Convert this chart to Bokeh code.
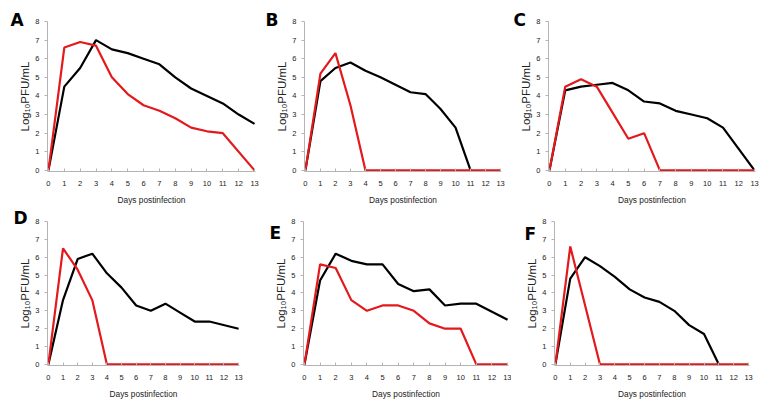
from bokeh.plotting import figure
from bokeh.layouts import column, row
from bokeh.models import Range1d, FixedTicker, Label
from bokeh.embed import file_html
from bokeh.resources import INLINE

# ---- data (Log10 PFU/mL by day postinfection) ----
panel_letters = ["A", "B", "C", "D", "E", "F"]
day_ticks = list(range(14))
log_ticks = list(range(9))

A_black_days = [0, 1, 2, 3, 4, 5, 6, 7, 8, 9, 10, 11, 12, 13]
A_black = [0, 4.5, 5.5, 7.0, 6.5, 6.3, 6.0, 5.7, 5.0, 4.4, 4.0, 3.6, 3.0, 2.5]
A_red_days = [0, 1, 2, 3, 4, 5, 6, 7, 8, 9, 10, 11, 13]
A_red = [0, 6.6, 6.9, 6.7, 5.0, 4.1, 3.5, 3.2, 2.8, 2.3, 2.1, 2.0, 0]

B_black_days = [0, 1, 2, 3, 4, 5, 6, 7, 8, 9, 10, 11]
B_black = [0, 4.8, 5.5, 5.8, 5.35, 5.0, 4.6, 4.2, 4.1, 3.3, 2.3, 0]
B_red_days = [0, 1, 2, 3, 4, 5, 6, 7, 8, 9, 10, 11, 12, 13]
B_red = [0, 5.2, 6.3, 3.5, 0, 0, 0, 0, 0, 0, 0, 0, 0, 0]

C_black_days = [0, 1, 2, 3, 4, 5, 6, 7, 8, 9, 10, 11, 13]
C_black = [0, 4.3, 4.5, 4.6, 4.7, 4.3, 3.7, 3.6, 3.2, 3.0, 2.8, 2.3, 0]
C_red_days = [0, 1, 2, 3, 4, 5, 6, 7, 8, 9, 10, 11, 12, 13]
C_red = [0, 4.5, 4.9, 4.5, 3.1, 1.7, 2.0, 0, 0, 0, 0, 0, 0, 0]

D_black_days = [0, 1, 2, 3, 4, 5, 6, 7, 8, 9, 10, 11, 13]
D_black = [0, 3.6, 5.9, 6.2, 5.1, 4.3, 3.3, 3.0, 3.4, 2.9, 2.4, 2.4, 2.0]
D_red_days = [0, 1, 2, 3, 4, 5, 6, 7, 8, 9, 10, 11, 12, 13]
D_red = [0, 6.5, 5.3, 3.6, 0, 0, 0, 0, 0, 0, 0, 0, 0, 0]

E_black_days = [0, 1, 2, 3, 4, 5, 6, 7, 8, 9, 10, 11, 13]
E_black = [0, 4.7, 6.2, 5.8, 5.6, 5.6, 4.5, 4.1, 4.2, 3.3, 3.4, 3.4, 2.5]
E_red_days = [0, 1, 2, 3, 4, 5, 6, 7, 8, 9, 10, 11, 12, 13]
E_red = [0, 5.6, 5.4, 3.6, 3.0, 3.3, 3.3, 3.0, 2.3, 2.0, 2.0, 0, 0, 0]

F_black_days = [0, 1, 2, 3, 4, 5, 6, 7, 8, 9, 10, 11]
F_black = [0, 4.8, 6.0, 5.5, 4.9, 4.2, 3.75, 3.5, 3.0, 2.2, 1.7, 0]
F_red_days = [0, 1, 3, 4, 5, 6, 7, 8, 9, 10, 11, 12, 13]
F_red = [0, 6.6, 0, 0, 0, 0, 0, 0, 0, 0, 0, 0, 0]

x_title = "Days postinfection"
y_title = "Log\u2081\u2080PFU/mL"

BLACK = "#000000"
RED = "#e3191c"
AXIS = "#b4b4b4"
TEXT = "#222222"
FONT = "Liberation Sans"

# geometry: (left, frame_w, right, top, frame_h, bottom, letter_dx, letter_dy)
geoms = [
    (47, 208, 5, 20, 151, 36, -38, 1.5),
    (43, 198, 4, 21, 150, 36, -40, 1.7),
    (43, 207, 6, 21, 150, 36, -36, 1.7),
    (47, 192, 21, 14, 144, 50, -35, 3.5),
    (43, 205, 3, 3, 157, 48, -35, -11),
    (40, 198, 12, 4, 156, 48, -31, -12),
]

series = [
    (A_black_days, A_black, A_red_days, A_red),
    (B_black_days, B_black, B_red_days, B_red),
    (C_black_days, C_black, C_red_days, C_red),
    (D_black_days, D_black, D_red_days, D_red),
    (E_black_days, E_black, E_red_days, E_red),
    (F_black_days, F_black, F_red_days, F_red),
]


def make_panel(letter, bx, by, rx, ry, g):
    left, fw, right, top, fh, bottom, ldx, ldy = g
    p = figure(
        width=left + fw + right, height=top + fh + bottom,
        min_border_left=left, min_border_right=right,
        min_border_top=top, min_border_bottom=bottom,
        x_range=Range1d(-0.06, 13.06), y_range=Range1d(-0.06, 8),
        output_backend="svg", toolbar_location=None,
        background_fill_color="white", border_fill_color="white",
    )
    p.outline_line_color = None
    p.grid.visible = False

    p.xaxis.ticker = FixedTicker(ticks=day_ticks)
    p.yaxis.ticker = FixedTicker(ticks=log_ticks)
    for ax in (p.xaxis[0], p.yaxis[0]):
        ax.axis_line_color = AXIS
        ax.major_tick_line_color = AXIS
        ax.minor_tick_line_color = None
        ax.major_label_text_font = FONT
        ax.major_label_text_font_size = "7.5px"
        ax.major_label_text_color = TEXT
        ax.axis_label_text_font = FONT
        ax.axis_label_text_font_style = "normal"
        ax.axis_label_text_color = TEXT
    p.xaxis.major_tick_in = 3
    p.xaxis.major_tick_out = 0
    p.xaxis.major_label_standoff = 9
    p.xaxis.axis_label = x_title
    p.xaxis.axis_label_text_font_size = "8.3px"
    p.xaxis.axis_label_standoff = 6
    p.yaxis.major_tick_in = 0
    p.yaxis.major_tick_out = 3
    p.yaxis.major_label_standoff = 5
    p.yaxis.axis_label = y_title
    p.yaxis.axis_label_text_font_size = "11.5px"
    p.yaxis.axis_label_standoff = 1

    p.line(bx, by, line_color=BLACK, line_width=2.2)
    p.line(rx, ry, line_color=RED, line_width=2.2)

    # panel letter lives in the left side panel so it is not clipped to the frame
    p.add_layout(Label(
        x=0, y=8, x_offset=ldx, y_offset=ldy, text=letter,
        text_font="DejaVu Sans", text_font_style="bold",
        text_font_size="17px", text_color="black",
        text_align="left", text_baseline="alphabetic",
    ), "left")
    return p


panels = [make_panel(l, *s, g) for l, s, g in zip(panel_letters, series, geoms)]
layout = column(row(*panels[:3], spacing=0), row(*panels[3:], spacing=0), spacing=0)

open("out.html", "w").write(file_html(layout, INLINE))
